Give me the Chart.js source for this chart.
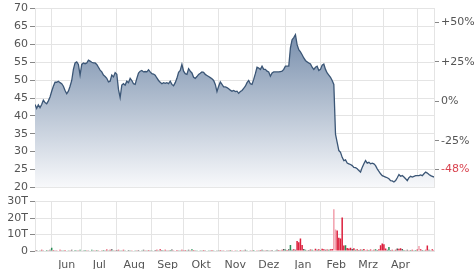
<!DOCTYPE html>
<html>
<head>
<meta charset="utf-8">
<script src="https://cdn.jsdelivr.net/npm/chart.js@4.4.0/dist/chart.umd.min.js"></script>
<style>
  html, body { margin: 0; padding: 0; background: #fff; }
  #wrap { position: relative; width: 474px; height: 269px; overflow: hidden; }
  #price-chart { position: absolute; left: 0; top: 0; }
  #volume-chart { position: absolute; left: 0; top: 193px; }
</style>
</head>
<body>
<div id="wrap">
  <canvas id="price-chart" width="474" height="196"></canvas>
  <canvas id="volume-chart" width="474" height="76"></canvas>
</div>
<script>
// daily closes, mid May .. early May
const prices = [
    43.2, 42.1, 43.1, 42.3, 43.2, 44.4, 43.7, 43.4, 44.2, 45.3,
    46.9, 48.3, 49.4, 49.4, 49.7, 49.3, 49.0, 48.3, 47.1, 46.2,
    46.9, 48.3, 49.9, 53.0, 54.8, 55.1, 54.4, 51.4, 54.4, 54.8,
    54.6, 54.8, 55.6, 55.3, 55.0, 54.8, 54.8, 54.4, 53.6, 52.8,
    52.3, 51.4, 51.0, 50.5, 49.5, 49.7, 51.4, 50.9, 52.1, 51.6,
    47.4, 45.1, 48.6, 49.0, 48.6, 49.7, 49.3, 50.5, 49.9, 49.0,
    48.8, 50.5, 52.0, 52.5, 52.7, 52.3, 52.4, 52.3, 52.9, 52.3,
    51.8, 51.7, 51.4, 50.6, 49.9, 49.4, 49.0, 49.3, 49.1, 49.3,
    49.0, 49.7, 48.8, 48.4, 49.3, 50.5, 52.2, 52.7, 54.4, 52.5,
    51.8, 51.6, 53.2, 52.5, 52.0, 50.8, 50.5, 51.0, 51.6, 51.9,
    52.3, 52.2, 51.6, 51.3, 51.0, 50.7, 50.4, 49.9, 48.8, 46.8,
    48.3, 49.5, 48.8, 48.1, 48.1, 47.9, 47.6, 47.2, 46.9, 47.1,
    46.8, 46.9, 46.3,
    46.8, 47.1, 47.7, 48.3, 49.3, 49.9, 49.0, 48.8, 50.2, 51.8,
    53.6, 53.4, 53.0, 53.9, 53.0, 53.0, 52.5, 52.3, 51.1, 52.0,
    52.3, 52.3, 52.3, 52.3, 52.4, 52.5, 53.0, 53.9, 53.9, 53.9,
    59.0, 61.3, 61.9, 62.7, 59.9, 58.5, 57.9, 57.1, 56.2, 55.5,
    55.1, 54.8, 54.5, 53.6, 53.0, 53.6, 53.9, 52.7, 53.0, 54.2,
    54.5, 53.0, 52.0, 51.4, 50.8, 49.9, 48.8, 34.9, 32.6, 30.3,
    29.8, 28.4, 27.5, 27.7, 26.8, 26.6, 26.4, 26.1, 25.6, 25.5,
    25.2, 24.7, 24.3, 25.6, 26.6, 27.5, 26.8, 27.0, 26.6, 26.8,
    26.6, 26.1, 25.2, 24.5, 23.8, 23.3, 23.1, 22.9, 22.7, 22.4,
    21.9, 21.8, 21.5, 21.9, 22.7, 23.6, 23.1, 23.3, 22.9, 22.4,
    21.9, 22.7, 23.1, 22.9, 23.1, 23.3, 23.3, 23.3, 23.5, 23.3,
    23.8, 24.3, 24.0, 23.6, 23.3, 23.1, 22.9
];

// volume in thousands (T)
const volume = [
    0.4, 0.6, 0.3, 0.5, 0.8, 0.4, 0.3, 0.6, 0.5, 0.7, 2.0, 0.6, 0.4, 0.5, 0.3, 0.8, 0.5, 0.4, 0.6, 0.3,
    0.5, 0.4, 0.7, 0.3, 0.6, 0.5, 0.4, 0.8, 0.3, 0.5, 0.6, 0.4, 0.5, 0.3, 0.7, 0.5, 0.4, 0.6, 0.5, 0.3,
    0.4, 0.6, 0.5, 0.9, 0.4, 0.7, 1.0, 0.5, 0.4, 0.6, 0.8, 0.5, 0.4, 0.7, 0.5, 0.3, 0.6, 0.4, 0.5, 0.3,
    0.5, 0.4, 0.6, 0.3, 0.5, 0.7, 0.4, 0.5, 0.6, 0.4, 0.5, 0.3, 0.6, 0.8, 0.5, 1.0, 0.6, 0.4, 0.7, 0.5,
    0.4, 0.6, 0.9, 0.5, 0.3, 0.6, 0.4, 0.5, 0.7, 0.4, 0.6, 0.5, 0.8, 0.4, 1.0, 0.6, 0.5, 0.4, 0.3, 0.5,
    0.4, 0.6, 0.5, 0.3, 0.4, 0.5, 0.6, 0.4, 0.3, 0.5, 0.4, 0.6, 0.5, 0.4, 0.3, 0.5, 0.4, 0.6, 0.5, 0.3,
    0.4, 0.5, 0.3, 0.6, 0.4, 0.5, 0.7, 0.4, 0.3, 0.5, 0.4, 0.6, 0.3, 0.5, 0.4, 0.6, 0.8, 0.5, 0.4, 0.6,
    0.5, 0.4, 0.6, 0.3, 0.5, 0.7, 0.6, 0.5, 0.8, 1.2, 0.9, 0.6, 1.0, 3.7, 0.8, 1.0, 0.7, 6.0, 5.3, 7.6,
    3.7, 1.2, 0.8, 0.5, 0.6, 0.9, 0.7, 0.5, 1.3, 0.8, 1.0, 0.6, 1.4, 1.1, 0.8, 0.9, 0.7, 1.0, 1.2, 25.3,
    13.1, 12.4, 8.0, 7.6, 20.4, 3.3, 3.5, 1.8, 1.5, 2.0, 1.2, 1.6, 0.8, 1.0, 0.6, 0.9, 0.7, 1.2, 0.5, 0.8,
    0.6, 0.9, 0.5, 0.7, 1.0, 0.6, 1.1, 3.5, 4.5, 4.1, 1.5, 0.8, 2.5, 0.6, 0.7, 0.5, 0.8, 1.5, 1.4, 1.6,
    1.2, 0.6, 0.5, 0.7, 0.4, 0.6, 0.8, 0.5, 0.6, 0.9, 3.0, 1.0, 0.6, 0.5, 0.8, 3.3, 0.7, 0.5, 1.0, 0.6
];

// g = up, r = down, k = unchanged, p = light red
const volumeDir =
    'rkrgrkrgrkgrkrgrkgrk' + 'grkrgkrgrkgrkrgkrgrk' + 'rgkrgrkgrkrgkrgrkgrk' +
    'grkrgkrgrkgrkrgrkgrk' + 'rgkrgrkgrkrgkrgrkgrk' + 'grkrgkrgrkgrkrgkrgrk' +
    'rgkrgrkgrkrgkrgrkgrk' + 'grkrgkrgrkgrkgkrkrrr' + 'rkgrkrgrrkrgrrkrgrrp' +
    'prrrrrgrrrkrgrkrgrkr' + 'grkrgkrrrrrkgkrgrkrr' + 'kgrkrgrkgrprkgrrkgrr';

const monthStarts = [10, 28, 49, 70, 89, 110, 130, 150, 171, 190, 209, 229];
const monthLabels = ['Jun', 'Jul', 'Aug', 'Sep', 'Okt', 'Nov', 'Dez', 'Jan', 'Feb', 'Mrz', 'Apr'];
const pctLevels = [50, 25, 0, -25];
const baseClose = 44.1;
const lastLabelAt = 25; // the last-change label sits a bit above the close, as in the source

const font = { family: 'DejaVu Sans', size: 11 };
const textColor = '#555';
const gridColor = '#e4e4e4';
const tickMarkColor = '#888';
const lastRed = '#d9434f';
const dirColors = { g: '#2a8f55', r: '#dc1f3c', k: '#555555', p: '#f2a0ad' };
const lastIdx = prices.length - 1;

function pctText(p) {
    return (p > 0 ? '+' : '') + p + '%';
}

function areaFill(context) {
    const area = context.chart.chartArea;
    if (!area) return 'rgba(120,145,175,0.5)';
    const g = context.chart.ctx.createLinearGradient(0, area.top, 0, area.bottom);
    g.addColorStop(0, 'rgb(100,126,160)');
    g.addColorStop(1, 'rgb(248,249,251)');
    return g;
}

const priceChart = new Chart(document.getElementById('price-chart'), {
    type: 'line',
    data: {
        datasets: [{
            data: prices.map((p, i) => ({ x: i, y: p })),
            borderColor: '#3b5676',
            borderWidth: 1.3,
            backgroundColor: areaFill,
            fill: 'start',
            pointRadius: 0,
            tension: 0
        }]
    },
    options: {
        responsive: false,
        animation: false,
        events: [],
        layout: { padding: { top: 7, bottom: 0, left: 0, right: 0 } },
        plugins: { legend: { display: false }, tooltip: { enabled: false } },
        scales: {
            x: {
                type: 'linear',
                min: 0,
                max: lastIdx,
                afterBuildTicks: axis => { axis.ticks = monthStarts.map(v => ({ value: v })); },
                afterFit: axis => { axis.height = 6; },
                ticks: { display: false },
                grid: { color: gridColor, drawTicks: false },
                border: { display: false }
            },
            y: {
                position: 'left',
                min: 20,
                max: 70,
                afterFit: axis => { axis.width = 35; },
                ticks: { stepSize: 5, font: font, color: textColor, padding: 2 },
                grid: { color: gridColor, tickColor: tickMarkColor, tickLength: 5 },
                border: { color: gridColor }
            },
            y2: {
                position: 'right',
                min: 20,
                max: 70,
                afterBuildTicks: axis => {
                    axis.ticks = pctLevels.map(p => ({ value: baseClose * (1 + p / 100) }))
                        .concat([{ value: lastLabelAt }]);
                },
                afterFit: axis => { axis.width = 40; },
                ticks: {
                    font: font,
                    padding: 2,
                    callback: (v, i) => i < pctLevels.length
                        ? pctText(pctLevels[i])
                        : pctText(Math.round((prices[lastIdx] / baseClose - 1) * 100)),
                    color: ctx => ctx.index === pctLevels.length ? lastRed : textColor
                },
                grid: { drawOnChartArea: false, tickColor: tickMarkColor, tickLength: 5 },
                border: { color: gridColor }
            }
        }
    }
});

const labelTicks = new Map();
monthLabels.forEach((m, i) => labelTicks.set((monthStarts[i] + monthStarts[i + 1]) / 2, m));

const volumeChart = new Chart(document.getElementById('volume-chart'), {
    type: 'bar',
    data: {
        datasets: [{
            data: volume.map((v, i) => ({ x: i, y: v })),
            backgroundColor: volume.map((v, i) => dirColors[volumeDir[i]]),
            barPercentage: 1,
            categoryPercentage: 0.9
        }]
    },
    options: {
        responsive: false,
        animation: false,
        events: [],
        layout: { padding: { top: 7, bottom: 0, left: 0, right: 0 } },
        plugins: { legend: { display: false }, tooltip: { enabled: false } },
        scales: {
            x: {
                type: 'linear',
                min: 0,
                max: lastIdx,
                offset: false,
                afterBuildTicks: axis => {
                    axis.ticks = monthStarts.map(v => ({ value: v }))
                        .concat([...labelTicks.keys()].map(v => ({ value: v })));
                },
                afterFit: axis => { axis.height = 18; },
                ticks: {
                    autoSkip: false,
                    maxRotation: 0,
                    font: font,
                    color: textColor,
                    padding: 8,
                    callback: v => labelTicks.get(v) || ''
                },
                grid: {
                    offset: false,
                    drawTicks: false,
                    color: ctx => (ctx.tick && labelTicks.has(ctx.tick.value)) ? 'rgba(0,0,0,0)' : gridColor
                },
                border: { color: gridColor }
            },
            y: {
                position: 'left',
                min: 0,
                max: 30,
                afterFit: axis => { axis.width = 35; },
                ticks: {
                    stepSize: 10,
                    font: font,
                    color: textColor,
                    padding: 2,
                    callback: v => v === 0 ? '0' : v + 'T'
                },
                grid: { color: gridColor, tickColor: tickMarkColor, tickLength: 5 },
                border: { color: gridColor }
            },
            y2: {
                position: 'right',
                min: 0,
                max: 30,
                afterFit: axis => { axis.width = 40; },
                ticks: { display: false },
                grid: { drawOnChartArea: false, drawTicks: false },
                border: { color: gridColor }
            }
        }
    }
});
</script>
</body>
</html>
